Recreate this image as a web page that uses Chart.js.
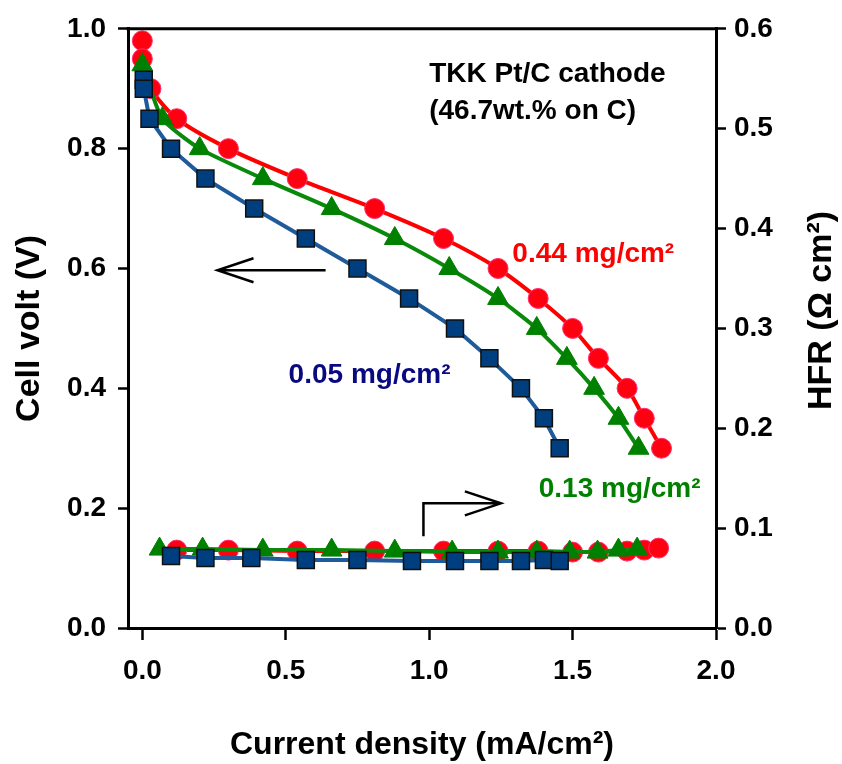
<!DOCTYPE html>
<html>
<head>
<meta charset="utf-8">
<script src="https://cdn.jsdelivr.net/npm/chart.js@4.4.1/dist/chart.umd.min.js"></script>
<style>
  html, body { margin: 0; padding: 0; background: #fff; }
</style>
</head>
<body>
<canvas id="chart" width="842" height="764"></canvas>
<script>
// polarization curves: current density (mA/cm2) vs cell voltage (V)
const redCurrent   = [0.00, 0.00, 0.03, 0.12, 0.30, 0.54, 0.81, 1.05, 1.24, 1.38, 1.50, 1.59, 1.69, 1.75, 1.81];
const redVoltage   = [0.98, 0.95, 0.90, 0.85, 0.80, 0.75, 0.70, 0.65, 0.60, 0.55, 0.50, 0.45, 0.40, 0.35, 0.30];
const greenCurrent = [0.00, 0.07, 0.20, 0.42, 0.66, 0.88, 1.07, 1.24, 1.375, 1.48, 1.575, 1.66, 1.73];
const greenVoltage = [0.94, 0.85, 0.80, 0.75, 0.70, 0.65, 0.60, 0.55, 0.50, 0.45, 0.40, 0.35, 0.30];
const blueCurrent  = [0.005, 0.005, 0.025, 0.10, 0.22, 0.39, 0.57, 0.75, 0.93, 1.09, 1.21, 1.32, 1.40, 1.455];
const blueVoltage  = [0.915, 0.90, 0.85, 0.80, 0.75, 0.70, 0.65, 0.60, 0.55, 0.50, 0.45, 0.40, 0.35, 0.30];

// HFR (ohm cm2) on the right axis
const redHfrCurrent   = [0.12, 0.30, 0.54, 0.81, 1.05, 1.24, 1.38, 1.50, 1.59, 1.69, 1.75, 1.80];
const redHfr          = [0.078, 0.078, 0.077, 0.077, 0.077, 0.077, 0.077, 0.076, 0.076, 0.077, 0.078, 0.080];
const greenHfrCurrent = [0.06, 0.21, 0.42, 0.66, 0.88, 1.08, 1.24, 1.375, 1.49, 1.587, 1.66, 1.725];
const greenHfr        = [0.079, 0.079, 0.078, 0.078, 0.077, 0.076, 0.076, 0.076, 0.076, 0.076, 0.078, 0.079];
const blueHfrCurrent  = [0.10, 0.22, 0.38, 0.57, 0.75, 0.94, 1.09, 1.21, 1.32, 1.40, 1.455];
const blueHfr         = [0.072, 0.070, 0.070, 0.068, 0.068, 0.067, 0.067, 0.067, 0.067, 0.068, 0.067];

const xTicks   = [0.0, 0.5, 1.0, 1.5, 2.0];
const vTicks   = [0.0, 0.2, 0.4, 0.6, 0.8, 1.0];
const hfrTicks = [0.0, 0.1, 0.2, 0.3, 0.4, 0.5, 0.6];

const loadingLabels = ['0.44 mg/cm²', '0.13 mg/cm²', '0.05 mg/cm²'];

const pts = (xs, ys) => xs.map((x, i) => ({ x: x, y: ys[i] }));

const RED = '#ff0000', GREEN = '#0a8a0a', BLUE = '#1f5a9a';
const FONT = '"Liberation Sans", Arial, sans-serif';

const redStyle = { borderColor: RED, backgroundColor: '#ff0010', pointBorderColor: '#ff3070', pointBorderWidth: 1, pointStyle: 'circle', pointRadius: 10 };
const greenStyle = { borderColor: GREEN, backgroundColor: '#008000', pointBorderColor: '#008000', pointBorderWidth: 1, pointStyle: 'triangle', pointRadius: 12 };
const blueStyle = { borderColor: BLUE, backgroundColor: '#003f7f', pointBorderColor: '#101010', pointBorderWidth: 1.5, pointStyle: 'rect', pointRadius: 12 };

const setTicks = (list) => (scale) => { scale.ticks = list.map(v => ({ value: v })); };

// text labels and arrows, placed in data units
const notes = [
  { text: 'TKK Pt/C cathode', x: 1.0, y: 0.924, color: '#000' },
  { text: '(46.7wt.% on C)', x: 1.0, y: 0.863, color: '#000' },
  { text: loadingLabels[0], x: 1.29, y: 0.624, color: '#ff0000' },
  { text: loadingLabels[1], x: 1.382, y: 0.231, color: '#008000' },
  { text: loadingLabels[2], x: 0.51, y: 0.421, color: '#0a0a80' }
];

const notesPlugin = {
  id: 'notes',
  afterDatasetsDraw(chart) {
    const ctx = chart.ctx, xs = chart.scales.x, ys = chart.scales.y, y2 = chart.scales.y2;
    const a = chart.chartArea;
    ctx.save();
    // top frame line
    ctx.strokeStyle = '#000';
    ctx.lineWidth = 3;
    ctx.beginPath();
    ctx.moveTo(a.left - 1.5, a.top);
    ctx.lineTo(a.right + 1.5, a.top);
    ctx.stroke();

    ctx.font = 'bold 28px ' + FONT;
    ctx.textBaseline = 'middle';
    ctx.textAlign = 'left';
    notes.forEach(n => {
      ctx.fillStyle = n.color;
      ctx.fillText(n.text, xs.getPixelForValue(n.x), ys.getPixelForValue(n.y));
    });

    // arrow pointing to the voltage axis
    ctx.lineWidth = 2.5;
    ctx.strokeStyle = '#000';
    let tx = xs.getPixelForValue(0.262), ex = xs.getPixelForValue(0.639), ay = ys.getPixelForValue(0.597);
    ctx.beginPath();
    ctx.moveTo(ex, ay); ctx.lineTo(tx, ay);
    ctx.moveTo(tx + 36, ay - 12); ctx.lineTo(tx, ay); ctx.lineTo(tx + 36, ay + 12);
    ctx.stroke();

    // bent arrow pointing to the HFR axis
    const bx = xs.getPixelForValue(0.98), by0 = ys.getPixelForValue(0.153), by1 = ys.getPixelForValue(0.208);
    tx = xs.getPixelForValue(1.25);
    ctx.beginPath();
    ctx.moveTo(bx, by0); ctx.lineTo(bx, by1); ctx.lineTo(tx, by1);
    ctx.moveTo(tx - 36, by1 - 12); ctx.lineTo(tx, by1); ctx.lineTo(tx - 36, by1 + 12);
    ctx.stroke();

    // right axis title, reading bottom to top
    ctx.save();
    ctx.translate(a.right + 106, y2.getPixelForValue(0.318));
    ctx.rotate(-Math.PI / 2);
    ctx.textAlign = 'center';
    ctx.fillStyle = '#000';
    ctx.font = 'bold 34px ' + FONT;
    ctx.fillText('HFR (Ω cm²)', 0, 0);
    ctx.restore();
    ctx.restore();
  }
};

const axisBase = {
  grid: { drawOnChartArea: false, drawTicks: true, tickLength: 10, tickWidth: 2.5, tickColor: '#000' },
  border: { display: true, width: 3, color: '#000' }
};

new Chart(document.getElementById('chart'), {
  type: 'scatter',
  data: {
    datasets: [
      Object.assign({ label: 'HFR 0.05', data: pts(blueHfrCurrent, blueHfr), yAxisID: 'y2', order: 1 }, blueStyle),
      Object.assign({ label: 'HFR 0.13', data: pts(greenHfrCurrent, greenHfr), yAxisID: 'y2', order: 2 }, greenStyle),
      Object.assign({ label: 'HFR 0.44', data: pts(redHfrCurrent, redHfr), yAxisID: 'y2', order: 3 }, redStyle),
      Object.assign({ label: loadingLabels[2], data: pts(blueCurrent, blueVoltage), yAxisID: 'y', order: 4 }, blueStyle),
      Object.assign({ label: loadingLabels[1], data: pts(greenCurrent, greenVoltage), yAxisID: 'y', order: 5, tension: 0.2 }, greenStyle),
      Object.assign({ label: loadingLabels[0], data: pts(redCurrent, redVoltage), yAxisID: 'y', order: 6, tension: 0.25 }, redStyle)
    ].map(d => Object.assign(d, { showLine: true, borderWidth: 4, clip: false }))
  },
  options: {
    responsive: false,
    animation: false,
    layout: { padding: { top: 22, left: 0, right: 0, bottom: 0 } },
    plugins: { legend: { display: false }, tooltip: { enabled: false } },
    scales: {
      x: Object.assign({}, axisBase, {
        type: 'linear', position: 'bottom', min: -0.05, max: 2.0,
        afterBuildTicks: setTicks(xTicks),
        afterFit: (s) => { s.height = 136; },
        grid: Object.assign({}, axisBase.grid, { tickLength: 12 }),
        ticks: { color: '#000', padding: 14, font: { family: FONT, size: 28, weight: 'bold' }, callback: v => v.toFixed(1), maxRotation: 0 },
        title: { display: true, text: 'Current density (mA/cm²)', color: '#000', padding: { top: 0, bottom: 0 }, font: { family: FONT, size: 32, weight: 'bold' } }
      }),
      y: Object.assign({}, axisBase, {
        type: 'linear', position: 'left', min: 0, max: 1.0,
        afterBuildTicks: setTicks(vTicks),
        afterFit: (s) => { s.width = 128; },
        ticks: { color: '#000', padding: 12, font: { family: FONT, size: 28, weight: 'bold' }, callback: v => v.toFixed(1) },
        title: { display: true, text: 'Cell volt (V)', color: '#000', padding: { top: 9, bottom: 0 }, font: { family: FONT, size: 34, weight: 'bold' } }
      }),
      y2: Object.assign({}, axisBase, {
        type: 'linear', position: 'right', min: 0, max: 0.6,
        afterBuildTicks: setTicks(hfrTicks),
        afterFit: (s) => { s.width = 126; },
        ticks: { color: '#000', padding: 8, font: { family: FONT, size: 28, weight: 'bold' }, callback: v => v.toFixed(1) }
      })
    }
  },
  plugins: [notesPlugin]
});
</script>
</body>
</html>
